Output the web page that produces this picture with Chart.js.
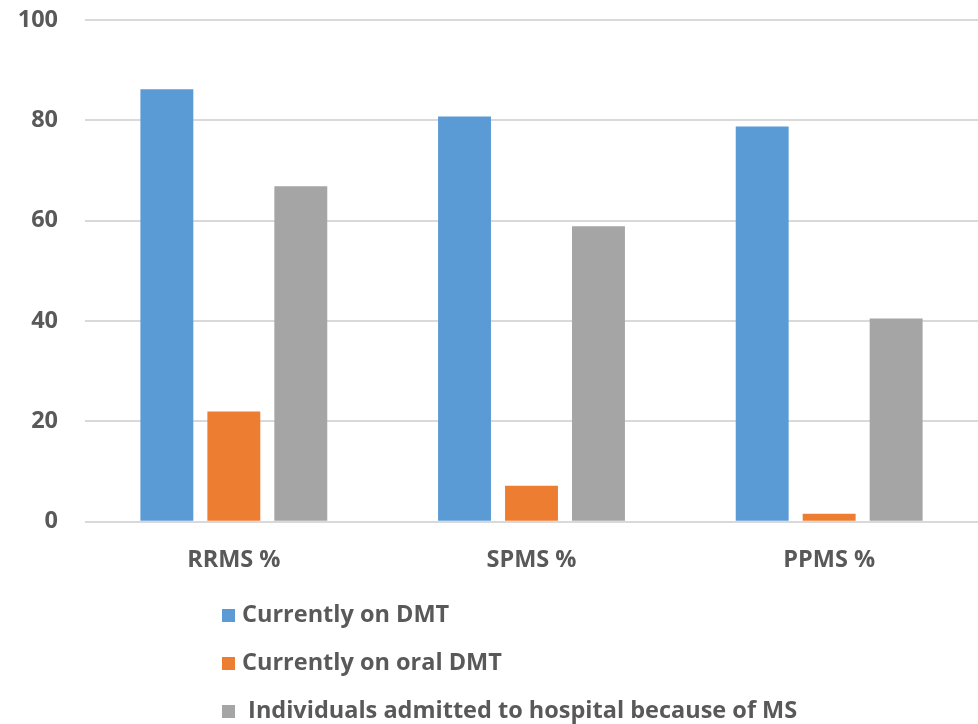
<!DOCTYPE html>
<html>
<head>
<meta charset="utf-8">
<script src="https://cdn.jsdelivr.net/npm/chart.js@4"></script>
<style>
  body { margin: 0; background: #fff; overflow: hidden; }
  #wrap { position: relative; width: 978px; height: 724px; overflow: hidden; }
  #chart { position: absolute; left: 0; top: -21px; }
  #legend {
    position: absolute; left: 222px; top: 594px;
    font-family: "Open Sans", sans-serif; font-weight: bold; font-size: 23.5px; color: #595959;
  }
  #legend div { height: 48px; line-height: 38px; white-space: pre; }
  #legend span.box { display: inline-block; width: 13px; height: 13px; margin-right: 7px; }
</style>
</head>
<body>
<div id="wrap">
  <canvas id="chart" width="978" height="745"></canvas>
  <div id="legend"></div>
</div>
<script>
const categories = ["RRMS %", "SPMS %", "PPMS %"];
const onDmt = [86.2, 80.8, 78.8];
const onOralDmt = [22.0, 7.2, 1.6];
const admitted = [66.9, 58.9, 40.5];
const yTicks = [0, 20, 40, 60, 80, 100];

const tickFont = { family: "Open Sans", weight: "bold", size: 23.5 };

const chart = new Chart(document.getElementById("chart"), {
  type: "bar",
  data: {
    labels: categories,
    datasets: [
      { label: "Currently on DMT", data: onDmt, backgroundColor: "#5B9BD5" },
      { label: "Currently on oral DMT", data: onOralDmt, backgroundColor: "#ED7D31" },
      { label: " Individuals admitted to hospital because of MS", data: admitted, backgroundColor: "#A5A5A5" },
    ],
  },
  options: {
    responsive: false,
    animation: false,
    barPercentage: 0.79,
    categoryPercentage: 0.675,
    layout: { padding: { top: 0, right: 0, bottom: 134, left: 0 } },
    plugins: {
      legend: { display: false },
      tooltip: { enabled: false },
    },
    scales: {
      x: {
        grid: { display: false },
        border: { display: false },
        ticks: { color: "#595959", font: tickFont, padding: 16 },
      },
      y: {
        min: 0,
        max: 100,
        afterBuildTicks: (scale) => { scale.ticks = yTicks.map((v) => ({ value: v })); },
        afterFit: (scale) => { scale.width = 85; },
        grid: { color: "#D9D9D9", lineWidth: 2, drawTicks: false },
        border: { display: false },
        ticks: { color: "#595959", font: tickFont, padding: 27 },
      },
    },
  },
});

// legend as a vertical list under the chart
const legend = document.getElementById("legend");
chart.data.datasets.forEach((ds) => {
  const row = document.createElement("div");
  const box = document.createElement("span");
  box.className = "box";
  box.style.background = ds.backgroundColor;
  row.appendChild(box);
  row.appendChild(document.createTextNode(ds.label));
  legend.appendChild(row);
});
</script>
</body>
</html>
